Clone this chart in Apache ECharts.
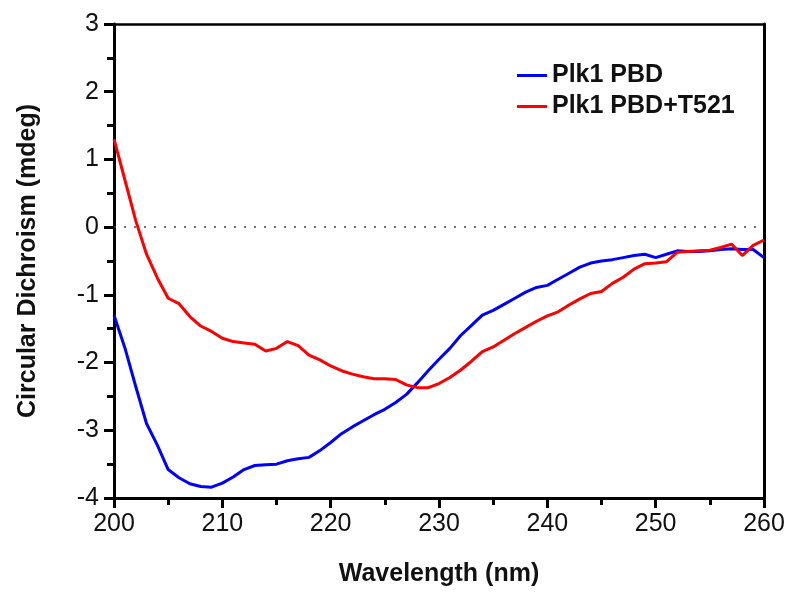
<!DOCTYPE html>
<html><head><meta charset="utf-8">
<script src="https://cdn.jsdelivr.net/npm/echarts@6/dist/echarts.min.js"></script>
<style>html,body{margin:0;padding:0;background:#fff}#c{width:793px;height:598px}</style>
</head><body><div id="c"></div>
<script>
var wavelengths = [];
for (var w = 200; w <= 260; w++) wavelengths.push(w);
var plkPBD = [-1.30,-1.78,-2.35,-2.90,-3.22,-3.58,-3.70,-3.79,-3.83,-3.84,
  -3.78,-3.69,-3.58,-3.52,-3.51,-3.50,-3.45,-3.42,-3.40,-3.30,
  -3.18,-3.05,-2.95,-2.86,-2.77,-2.69,-2.59,-2.47,-2.30,-2.12,
  -1.95,-1.79,-1.60,-1.45,-1.30,-1.23,-1.14,-1.05,-0.96,-0.89,
  -0.86,-0.77,-0.68,-0.59,-0.53,-0.50,-0.48,-0.45,-0.42,-0.40,
  -0.45,-0.40,-0.35,-0.36,-0.36,-0.35,-0.33,-0.32,-0.33,-0.33,-0.45];
var plkPBDT521 = [1.30,0.70,0.10,-0.40,-0.75,-1.05,-1.13,-1.32,-1.46,-1.54,
  -1.64,-1.69,-1.71,-1.73,-1.83,-1.79,-1.69,-1.75,-1.89,-1.96,
  -2.05,-2.12,-2.17,-2.21,-2.24,-2.24,-2.25,-2.33,-2.37,-2.37,
  -2.31,-2.22,-2.11,-1.98,-1.84,-1.77,-1.67,-1.57,-1.48,-1.39,
  -1.31,-1.25,-1.15,-1.06,-0.98,-0.95,-0.83,-0.74,-0.62,-0.54,
  -0.53,-0.51,-0.37,-0.36,-0.35,-0.34,-0.30,-0.25,-0.42,-0.27,-0.19];
var seriesNames = ['Plk1 PBD', 'Plk1 PBD+T521'];

function pairs(vals){ return wavelengths.map(function(x,i){return [x, vals[i]];}); }
var tickFont = {fontFamily:'"Liberation Sans",Arial,sans-serif', fontSize:25, color:'#111'};
var titleFont = {fontFamily:'"Liberation Sans",Arial,sans-serif', fontWeight:'bold', fontSize:25, color:'#111'};
var chart = echarts.init(document.getElementById('c'), null, {renderer:'canvas'});
chart.setOption({
  animation:false,
  backgroundColor:'#fff',
  grid:{left:114, right:29, top:24, bottom:100, containLabel:false},
  legend:{
    data:seriesNames, orient:'vertical', left:512, top:58, itemGap:6,
    icon:'rect', itemWidth:30, itemHeight:3,
    textStyle:{fontFamily:'"Liberation Sans",Arial,sans-serif', fontWeight:'bold', fontSize:25, color:'#111'}
  },
  xAxis:[{
    type:'value', min:200, max:260, interval:10, position:'bottom',
    name:'Wavelength (nm)', nameLocation:'middle', nameGap:64,
    nameTextStyle:titleFont,
    axisLine:{onZero:false, lineStyle:{color:'#000', width:3}},
    axisTick:{inside:false, length:10, lineStyle:{color:'#000', width:3}},
    minorTick:{show:true, splitNumber:2, length:7, lineStyle:{color:'#000', width:3}},
    axisLabel:Object.assign({margin:14}, tickFont),
    splitLine:{show:false}
  },{
    type:'value', min:200, max:260, position:'top',
    axisLine:{onZero:false, lineStyle:{color:'#000', width:2.5}},
    axisTick:{show:false}, axisLabel:{show:false}, splitLine:{show:false}
  }],
  yAxis:[{
    type:'value', min:-4, max:3, interval:1, position:'left',
    name:'Circular Dichroism (mdeg)', nameLocation:'middle', nameGap:73, nameRotate:90,
    nameTextStyle:titleFont,
    axisLine:{onZero:false, lineStyle:{color:'#000', width:3}},
    axisTick:{inside:false, length:10, lineStyle:{color:'#000', width:3}},
    minorTick:{show:true, splitNumber:2, length:7, lineStyle:{color:'#000', width:3}},
    axisLabel:Object.assign({margin:15}, tickFont),
    splitLine:{show:false}
  },{
    type:'value', min:-4, max:3, position:'right',
    axisLine:{onZero:false, lineStyle:{color:'#000', width:3}},
    axisTick:{show:false}, axisLabel:{show:false}, splitLine:{show:false}
  }],
  series:[{
    name:seriesNames[0], type:'line', data:pairs(plkPBD), showSymbol:false, symbol:'none',
    smooth:false, lineStyle:{color:'#0000ff', width:3}, itemStyle:{color:'#0000ff'}, z:3,
    markLine:{silent:true, symbol:['none','none'], label:{show:false},
      lineStyle:{color:'#444', type:[2,8], width:1.5}, data:[{yAxis:0}]}
  },{
    name:seriesNames[1], type:'line', data:pairs(plkPBDT521), showSymbol:false, symbol:'none',
    smooth:false, lineStyle:{color:'#ff0000', width:3}, itemStyle:{color:'#ff0000'}, z:4
  }]
});
</script></body></html>
